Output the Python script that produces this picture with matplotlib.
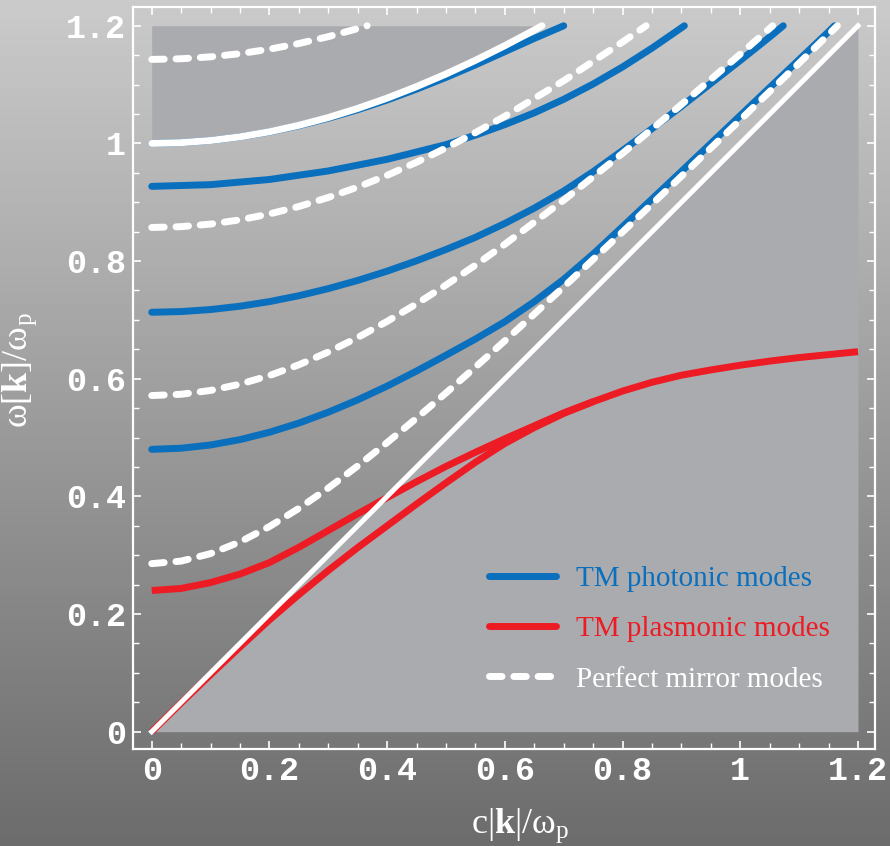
import numpy as np
import matplotlib
matplotlib.use('Agg')
import matplotlib.pyplot as plt
from matplotlib.colors import LinearSegmentedColormap
from matplotlib.ticker import MultipleLocator, FuncFormatter

plt.rcParams['mathtext.fontset'] = 'custom'
plt.rcParams['mathtext.rm'] = 'Liberation Serif'
plt.rcParams['mathtext.bf'] = 'Liberation Serif:bold'
plt.rcParams['mathtext.it'] = 'Liberation Serif:italic'

BLUE = '#0a6fbd'
RED = '#ed1c24'
SHADE = '#aaabaf'

# light line and bulk plasmon line
light_k = [0.0, 1.2]
light_w = [0.0, 1.2]
bulk_k = [0.0, 0.05, 0.1, 0.15, 0.2, 0.25, 0.3, 0.35, 0.4, 0.45, 0.5, 0.55, 0.6, 0.65, 0.663]
bulk_w = [1.0, 1.0013, 1.005, 1.0112, 1.0198, 1.0308, 1.044, 1.0595, 1.077, 1.0966, 1.118, 1.1413, 1.1662, 1.1927, 1.2]

# TM photonic modes (blue)
ph1_k = [0.0, 0.05, 0.1, 0.15, 0.2, 0.25, 0.3, 0.35, 0.4, 0.45, 0.5, 0.55, 0.6, 0.65, 0.7, 0.75,
         0.8, 0.85, 0.9, 0.95, 1.0, 1.05, 1.1, 1.15, 1.16]
ph1_w = [0.48, 0.4819, 0.4874, 0.4965, 0.509, 0.5246, 0.5431, 0.5641, 0.5875, 0.6131, 0.64, 0.6675,
         0.697, 0.731, 0.769, 0.812, 0.8585, 0.9055, 0.9525, 1.0, 1.0475, 1.095, 1.1425, 1.19, 1.2]
ph2_k = [0.0, 0.05, 0.1, 0.15, 0.2, 0.25, 0.3, 0.35, 0.4, 0.45, 0.5, 0.55, 0.6, 0.65, 0.7, 0.75,
         0.8, 0.85, 0.9, 0.95, 1.0, 1.05, 1.073]
ph2_w = [0.713, 0.7142, 0.7176, 0.7233, 0.7311, 0.7411, 0.7532, 0.7671, 0.7829, 0.8005, 0.8197, 0.8404,
         0.864, 0.89, 0.919, 0.952, 0.988, 1.025, 1.063, 1.102, 1.141, 1.181, 1.2]
ph3_k = [0.0, 0.1, 0.2, 0.3, 0.4, 0.5, 0.55, 0.6, 0.65, 0.7, 0.75, 0.8, 0.85, 0.905]
ph3_w = [0.927, 0.9299, 0.9387, 0.9532, 0.973, 0.998, 1.014, 1.032, 1.052, 1.075, 1.101, 1.13, 1.162, 1.2]
ph4_k = [0.0, 0.05, 0.1, 0.15, 0.2, 0.25, 0.3, 0.35, 0.4, 0.45, 0.5, 0.55, 0.6, 0.65, 0.7]
ph4_w = [1.0, 1.0013, 1.005, 1.0111, 1.0195, 1.0302, 1.0428, 1.0573, 1.0738, 1.0923, 1.1122, 1.1335,
         1.156, 1.1785, 1.2]

# TM plasmonic modes (red)
pl1_k = [0.0, 0.05, 0.1, 0.15, 0.2, 0.25, 0.3, 0.35, 0.4, 0.45, 0.5, 0.55, 0.6, 0.65, 0.7, 0.75,
         0.8, 0.85, 0.9, 0.95, 1.0, 1.05, 1.1, 1.15, 1.2]
pl1_w = [0.24, 0.2435, 0.2535, 0.268, 0.2875, 0.3135, 0.342, 0.3705, 0.398, 0.425, 0.451, 0.475, 0.498,
         0.52, 0.542, 0.561, 0.579, 0.594, 0.606, 0.615, 0.623, 0.63, 0.636, 0.641, 0.646]
pl2_k = [0.0, 0.05, 0.1, 0.15, 0.2, 0.25, 0.3, 0.35, 0.4, 0.45, 0.5, 0.55, 0.6, 0.65, 0.7, 0.75]
pl2_w = [0.0, 0.049, 0.097, 0.144, 0.19, 0.233, 0.274, 0.313, 0.35, 0.387, 0.423, 0.458, 0.49, 0.517,
         0.541, 0.561]

# perfect mirror modes (white dashed)
pm1_k = [0.0, 0.05, 0.1, 0.15, 0.2, 0.25, 0.3, 0.35, 0.4, 0.45, 0.5, 0.55, 0.6, 0.65, 0.7, 0.8,
         0.9, 1.0, 1.1, 1.165]
pm1_w = [0.2857, 0.29, 0.3027, 0.3226, 0.3487, 0.3796, 0.4142, 0.4518, 0.4915, 0.533, 0.5758, 0.6198,
         0.6645, 0.71, 0.756, 0.8495, 0.9442, 1.04, 1.1365, 1.2]
pm2_k = [0.0, 0.05, 0.1, 0.15, 0.2, 0.25, 0.3, 0.35, 0.4, 0.45, 0.5, 0.55, 0.6, 0.7, 0.8, 0.9, 1.0, 1.055]
pm2_w = [0.5714, 0.5736, 0.5801, 0.5908, 0.6054, 0.6237, 0.6454, 0.6701, 0.6975, 0.7273, 0.7593,
         0.7931, 0.8286, 0.9035, 0.9831, 1.0661, 1.1518, 1.2]
pm3_k = [0.0, 0.05, 0.1, 0.15, 0.2, 0.25, 0.3, 0.35, 0.4, 0.45, 0.5, 0.55, 0.6, 0.7, 0.8, 0.84]
pm3_w = [0.8571, 0.8585, 0.8629, 0.8701, 0.8801, 0.8928, 0.9081, 0.9258, 0.9458, 0.968, 0.9923,
         1.0184, 1.0462, 1.1066, 1.1724, 1.2]
pm4_k = [0.0, 0.05, 0.1, 0.15, 0.2, 0.25, 0.3, 0.35, 0.366]
pm4_w = [1.1428, 1.1439, 1.1472, 1.1526, 1.1602, 1.1698, 1.1815, 1.1952, 1.2]

fig = plt.figure(figsize=(8.9, 8.46), dpi=100)

# grey vertical gradient behind everything
bg = fig.add_axes([0, 0, 1, 1], zorder=-5)
cmap = LinearSegmentedColormap.from_list('bg', ['#cbcbcb', '#6c6c6c'])
bg.imshow(np.linspace(0, 1, 256)[:, None], cmap=cmap, aspect='auto',
          extent=[0, 1, 0, 1])
bg.axis('off')

ax = fig.add_axes([133/890, 97/846, 742/890, 742/846])
ax.set_facecolor('none')
ax.set_xlim(-0.0318, 1.2289)
ax.set_ylim(-0.0294, 1.2319)

# shaded regions
ax.fill_between([0, 1.2], [0, 0], [0, 1.2], color=SHADE, lw=0, zorder=1)
ax.fill_between(bulk_k, bulk_w, 1.2, color=SHADE, lw=0, zorder=1)

dash = dict(color='white', lw=5, ls=(0, (1.8, 1.7)), dash_capstyle='round', zorder=5)
ax.plot(ph4_k, ph4_w, color=BLUE, lw=5, solid_capstyle='round', zorder=3)
ax.plot(bulk_k, bulk_w, color='white', lw=5, solid_capstyle='round', zorder=4)
for k, w in [(ph1_k, ph1_w), (ph2_k, ph2_w), (ph3_k, ph3_w)]:
    ax.plot(k, w, color=BLUE, lw=5, solid_capstyle='round', zorder=3)
ax.plot(pl1_k, pl1_w, color=RED, lw=5, solid_capstyle='butt', zorder=3)
ax.plot(pl2_k, pl2_w, color=RED, lw=5, solid_capstyle='butt', zorder=3)
for k, w in [(pm1_k, pm1_w), (pm2_k, pm2_w), (pm3_k, pm3_w), (pm4_k, pm4_w)]:
    ax.plot(k, w, **dash)
ax.plot(light_k, light_w, color='white', lw=3.6, zorder=6)

# legend
h1, = ax.plot([], [], color=BLUE, lw=5, solid_capstyle='round')
h2, = ax.plot([], [], color=RED, lw=5, solid_capstyle='round')
h3, = ax.plot([], [], **dash)
leg = ax.legend([h1, h2, h3], ['TM photonic modes', 'TM plasmonic modes', 'Perfect mirror modes'],
                loc='upper left', bbox_to_anchor=(489/890, 1 - 566/846),
                bbox_transform=fig.transFigure, frameon=False, borderpad=0,
                borderaxespad=0, handlelength=2.3, handletextpad=0.7,
                labelspacing=0.81, prop={'family': 'Liberation Serif', 'size': 21})
for t, c in zip(leg.get_texts(), [BLUE, RED, 'white']):
    t.set_color(c)

# frame and ticks
for s in ax.spines.values():
    s.set_color('white')
    s.set_linewidth(1.6)
ax.xaxis.set_major_locator(MultipleLocator(0.2))
ax.yaxis.set_major_locator(MultipleLocator(0.2))
ax.xaxis.set_minor_locator(MultipleLocator(0.05))
ax.yaxis.set_minor_locator(MultipleLocator(0.05))
fmt = FuncFormatter(lambda v, p: f'{v:g}')
ax.xaxis.set_major_formatter(fmt)
ax.yaxis.set_major_formatter(fmt)
ax.tick_params(which='both', direction='in', colors='white', top=True, right=True)
ax.tick_params(which='major', length=6, width=1.2, pad=5)
ax.tick_params(which='minor', length=4, width=1.0)
for lab in ax.get_xticklabels() + ax.get_yticklabels():
    lab.set_family('Liberation Mono')
    lab.set_fontweight('bold')
    lab.set_fontsize(24)

fig.text(520/890, 1 - 826/846, r'c$|\mathbf{k}|/\mathrm{\omega}_\mathrm{p}$',
         family='Liberation Serif', fontsize=26, color='white', ha='center', va='center')
fig.text(20/890, 1 - 370/846, r'ω$[\mathbf{k}]/\mathrm{\omega}_\mathrm{p}$',
         family='Liberation Serif', fontsize=26, color='white', ha='center', va='center',
         rotation=90)

fig.savefig('out.png', dpi=100)
